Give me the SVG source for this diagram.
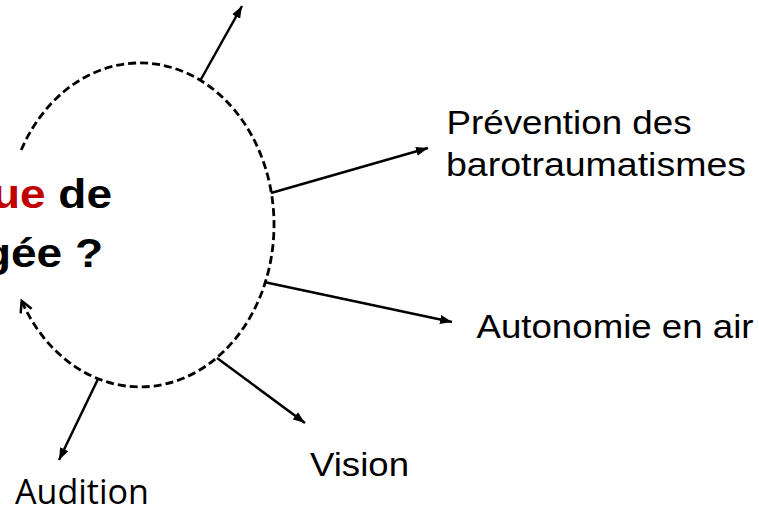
<svg xmlns="http://www.w3.org/2000/svg" width="759" height="511" viewBox="0 0 759 511">
  <style>
    .lbl { font-family: "Liberation Sans", Arial, sans-serif; font-size: 34px; fill: #000; }
    .lbl2 { font-family: "Open Sans", "Liberation Sans", sans-serif; font-size: 35px; fill: #000; }
    .title { font-family: "Liberation Sans", Arial, sans-serif; font-size: 40px; font-weight: bold; fill: #000; }
    .red { fill: #C00000; }
    .conn { stroke: #000; stroke-width: 2.5; fill: none; }
    .arc { stroke: #000; stroke-width: 2.8; fill: none; stroke-dasharray: 8 4; }
  </style>
  <defs>
    <marker id="arrow" markerUnits="userSpaceOnUse" markerWidth="13" markerHeight="10" refX="12" refY="5" orient="auto">
      <path d="M0,0.5 L12,5 L0,9.5 z" fill="#000"/>
    </marker>
    <marker id="open" markerUnits="userSpaceOnUse" markerWidth="16" markerHeight="16" refX="12" refY="7" orient="auto">
      <path d="M1,1 L12,7 L1,13" fill="none" stroke="#000" stroke-width="2.5"/>
    </marker>
  </defs>
  <rect width="759" height="511" fill="#fff"/>

  <g id="center">
    <path class="arc" d="M21.2,150 A134,162 0 1 1 21.7,301" marker-end="url(#open)"/>
    <text class="title" text-anchor="end" transform="translate(112,208) scale(1.15,1)"><tspan class="red">ue</tspan> de</text>
    <text class="title" text-anchor="end" transform="translate(103,267) scale(1.15,1)">gée ?</text>
  </g>

  <g id="connectors">
    <line class="conn" x1="200" y1="81" x2="242" y2="6" marker-end="url(#arrow)"/>
    <line class="conn" x1="271" y1="193" x2="428" y2="148" marker-end="url(#arrow)"/>
    <line class="conn" x1="264" y1="282" x2="452" y2="322" marker-end="url(#arrow)"/>
    <line class="conn" x1="217" y1="358" x2="305" y2="423" marker-end="url(#arrow)"/>
    <line class="conn" x1="98" y1="379" x2="59" y2="460" marker-end="url(#arrow)"/>
  </g>

  <g id="node-prevention">
    <text class="lbl" x="446.5" y="134" textLength="245" lengthAdjust="spacingAndGlyphs">Prévention des</text>
    <text class="lbl" x="446" y="176" textLength="300" lengthAdjust="spacingAndGlyphs">barotraumatismes</text>
  </g>
  <g id="node-autonomie">
    <text class="lbl" x="476.5" y="338" textLength="277" lengthAdjust="spacingAndGlyphs">Autonomie en air</text>
  </g>
  <g id="node-vision">
    <text class="lbl" x="310" y="476" textLength="99" lengthAdjust="spacingAndGlyphs">Vision</text>
  </g>
  <g id="node-audition">
    <text class="lbl2" x="15" y="504" textLength="134" lengthAdjust="spacingAndGlyphs">Audition</text>
  </g>
</svg>
